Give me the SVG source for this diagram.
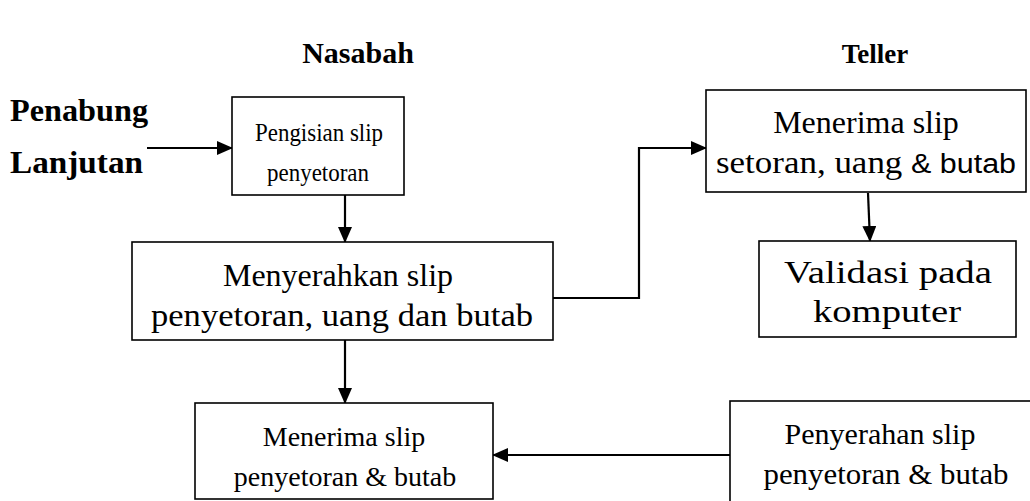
<svg xmlns="http://www.w3.org/2000/svg" width="1030" height="501" viewBox="0 0 1030 501">
<defs>
<marker id="ah" markerUnits="userSpaceOnUse" markerWidth="16" markerHeight="14" refX="15" refY="7" orient="auto">
<path d="M0,0 L16,7 L0,14 Z" fill="#000"/>
</marker>
<style>
.box{fill:#fff;stroke:#000;stroke-width:1.6}
.t{font-family:"Liberation Serif","Times New Roman",serif;font-size:29px;fill:#000;text-anchor:middle}
.h{font-family:"Liberation Serif","Times New Roman",serif;font-size:29px;font-weight:bold;fill:#000}
.s{font-family:"Liberation Sans",Arial,sans-serif;font-size:27px}
.c{fill:none;stroke:#000;stroke-width:2.2}
</style>
</defs>
<rect width="1030" height="501" fill="#fff"/>
<g id="titles">
<text class="h" x="358" y="63" text-anchor="middle" style="font-size:30px">Nasabah</text>
<text class="h" x="875" y="63" text-anchor="middle" style="font-size:27px">Teller</text>
<text class="h" x="10" y="121" style="font-size:32px" textLength="138" lengthAdjust="spacingAndGlyphs">Penabung</text>
<text class="h" x="10" y="173" style="font-size:32px" textLength="133" lengthAdjust="spacingAndGlyphs">Lanjutan</text>
</g>
<g id="connectors">
<line class="c" x1="147" y1="148" x2="232" y2="148" marker-end="url(#ah)"/>
<line class="c" x1="345" y1="195" x2="345" y2="242" marker-end="url(#ah)"/>
<polyline class="c" points="553,298 639,298 639,148 706,148" marker-end="url(#ah)"/>
<line class="c" x1="868" y1="193" x2="870" y2="241" marker-end="url(#ah)"/>
<line class="c" x1="345" y1="340" x2="345" y2="403" marker-end="url(#ah)"/>
<line class="c" x1="730" y1="455" x2="493" y2="455" marker-end="url(#ah)"/>
</g>
<g id="n1">
<rect class="box" x="232" y="97" width="172" height="98"/>
<text class="t" x="319" y="141" style="font-size:26px" textLength="128" lengthAdjust="spacingAndGlyphs">Pengisian slip</text>
<text class="t" x="318" y="181" style="font-size:26px" textLength="102" lengthAdjust="spacingAndGlyphs">penyetoran</text>
</g>
<g id="n2">
<rect class="box" x="132" y="242" width="421" height="98"/>
<text class="t" x="338" y="286" style="font-size:32px">Menyerahkan slip</text>
<text class="t" x="342" y="326" style="font-size:32px" textLength="382" lengthAdjust="spacingAndGlyphs">penyetoran, uang dan butab</text>
</g>
<g id="n3">
<rect class="box" x="706" y="90" width="320" height="102"/>
<text class="t" x="866" y="133" style="font-size:32px">Menerima slip</text>
<text class="t" x="866" y="173" style="font-size:31px" textLength="300" lengthAdjust="spacingAndGlyphs">setoran, uang <tspan class="s">&amp; butab</tspan></text>
</g>
<g id="n4">
<rect class="box" x="759" y="241" width="257" height="96"/>
<text class="t" x="888" y="283" style="font-size:32px" textLength="208" lengthAdjust="spacingAndGlyphs">Validasi pada</text>
<text class="t" x="887" y="322" style="font-size:32px" textLength="148" lengthAdjust="spacingAndGlyphs">komputer</text>
</g>
<g id="n5">
<rect class="box" x="195" y="403" width="298" height="96"/>
<text class="t" x="344" y="446" style="font-size:28px">Menerima slip</text>
<text class="t" x="345" y="486" style="font-size:28px">penyetoran &amp; butab</text>
</g>
<g id="n6">
<rect class="box" x="730" y="401" width="320" height="120"/>
<text class="t" x="880" y="444" style="font-size:30px">Penyerahan slip</text>
<text class="t" x="886" y="484" style="font-size:30px" textLength="245" lengthAdjust="spacingAndGlyphs">penyetoran &amp; butab</text>
</g>
</svg>
